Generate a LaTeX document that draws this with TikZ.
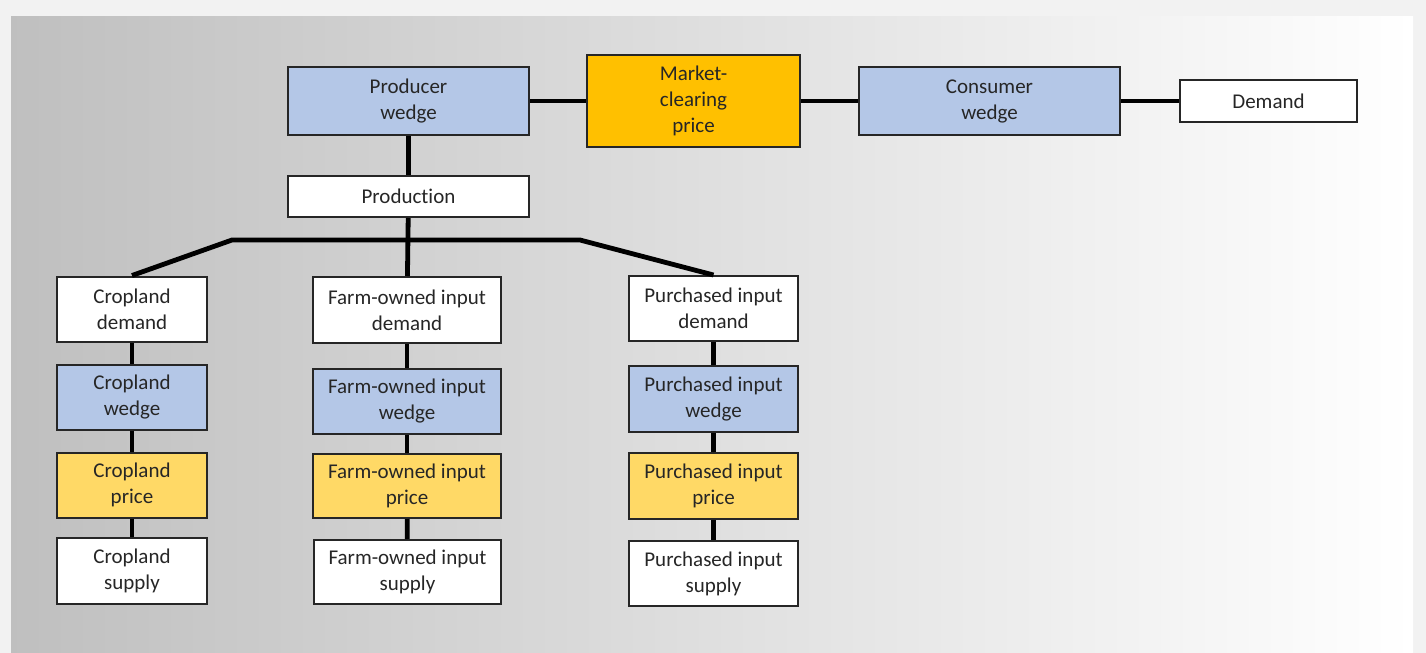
\documentclass[tikz,border=0pt]{standalone}
\usepackage{fontspec}
\setmainfont[Ligatures={NoCommon}]{Carlito}
\definecolor{wedgeblue}{HTML}{B4C7E7}
\definecolor{priceyellow}{HTML}{FFD966}
\definecolor{marketorange}{HTML}{FFC000}
\tikzset{
  box/.style={draw=black!85, line width=1pt, align=center, inner sep=0pt,
    text=black!85, font=\fontsize{10.5}{13}\selectfont},
  plainbox/.style={box, fill=white},
  wedgebox/.style={box, fill=wedgeblue},
  pricebox/.style={box, fill=priceyellow},
  link/.style={line width=2.4pt, black}
}
\begin{document}
\begin{tikzpicture}[x=0.5pt,y=-0.5pt]
% Background
\fill[black!5] (0,0) rectangle (1426,653);
\shade[left color=black!25, right color=white] (11,16) rectangle (1413,653);
\useasboundingbox (0,0) rectangle (1426,653);
% Top row
\node[wedgebox, minimum width=120.5pt, minimum height=34pt] (prodW) at (408.5,101) {Producer\\wedge};
\node[box, fill=marketorange, minimum width=106.5pt, minimum height=46pt] (market) at (693.5,101) {Market-\\clearing\\price};
\node[wedgebox, minimum width=130.5pt, minimum height=34pt] (consW) at (989.5,101) {Consumer\\wedge};
\node[plainbox, minimum width=88.5pt, minimum height=21pt] (demand) at (1268.5,101) {Demand};
\draw[link] (prodW) -- (market);
\draw[link] (market) -- (consW);
\draw[link] (consW) -- (demand);
% Production
\node[plainbox, minimum width=120.5pt, minimum height=20.5pt] (production) at (408.5,196.5) {Production};
\draw[link] (prodW) -- (production);
% Cropland
\node[plainbox, minimum width=75pt, minimum height=32.5pt] (cropD) at (132,309) {Cropland\\demand};
\node[wedgebox, minimum width=75pt, minimum height=32.5pt] (cropW) at (132,397) {Cropland\\wedge};
\node[pricebox, minimum width=75pt, minimum height=32.5pt] (cropP) at (132,485) {Cropland\\price};
\node[plainbox, minimum width=75pt, minimum height=33pt] (cropS) at (132,570.5) {Cropland\\supply};
% Farm-owned input
\node[plainbox, minimum width=94pt, minimum height=33pt] (farmD) at (407,310) {Farm-owned input\\demand};
\node[wedgebox, minimum width=94pt, minimum height=32.5pt] (farmW) at (407,401.5) {Farm-owned input\\wedge};
\node[pricebox, minimum width=94pt, minimum height=32pt] (farmP) at (407,486) {Farm-owned input\\price};
\node[plainbox, minimum width=93.5pt, minimum height=32pt] (farmS) at (407.5,572) {Farm-owned input\\supply};
% Purchased input
\node[plainbox, minimum width=84.5pt, minimum height=32.5pt] (purD) at (713.5,308.5) {Purchased input\\demand};
\node[wedgebox, minimum width=84.5pt, minimum height=33pt] (purW) at (713.5,399) {Purchased input\\wedge};
\node[pricebox, minimum width=84.5pt, minimum height=33pt] (purP) at (713.5,486) {Purchased input\\price};
\node[plainbox, minimum width=84.5pt, minimum height=32.5pt] (purS) at (713.5,573.5) {Purchased input\\supply};
% Branches
\coordinate (busL) at (232,240);
\coordinate (busR) at (580,240);
\draw[link] (cropD.north) -- (busL) -- (busR) -- (purD.north);
\draw[link] (production) -- (farmD);
% Chains
\foreach \col in {crop,farm,pur}{
  \draw[link] (\col D) -- (\col W);
  \draw[link] (\col W) -- (\col P);
  \draw[link] (\col P) -- (\col S);
}
\end{tikzpicture}
\end{document}
